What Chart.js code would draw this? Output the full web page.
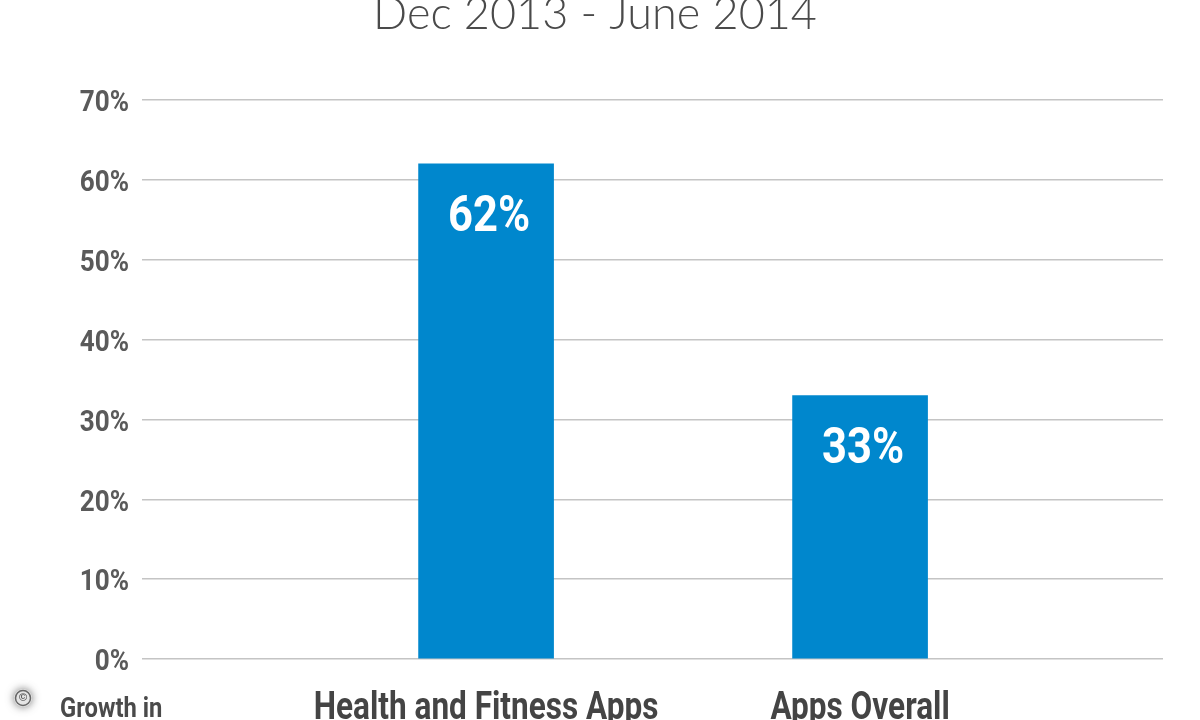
<!DOCTYPE html>
<html><head><meta charset="utf-8">
<style>html,body{margin:0;padding:0;background:#fff}#w{position:relative;width:1200px;height:720px;overflow:hidden}canvas{position:absolute;left:0;top:0}</style>
<script src="https://cdn.jsdelivr.net/npm/chart.js@4"></script></head>
<body><div id="w"><canvas id="c" width="1200" height="720"></canvas></div>
<script>
const categories=["Health and Fitness Apps","Apps Overall"];
const growthValues=[62,33];
const valueLabels=["62%","33%"];
const yTicks=[0,10,20,30,40,50,60,70];
const titleText="Dec 2013 - June 2014";
const axisNote="Growth in";
const face='Roboto,"Liberation Sans",sans-serif';
const canvas=document.getElementById('c');
const rawCtx=canvas.getContext('2d');
// The reference uses a condensed face; squeeze the text horizontally when drawn.
const origFill=rawCtx.fillText.bind(rawCtx);
const squeeze={'29px':0.9,'38px':0.83,'50px':0.87,'27px':0.88};
rawCtx.fillText=function(t,x,y,m){
  const hit=Object.keys(squeeze).find(k=>rawCtx.font.includes(k));
  if(!hit)return origFill(t,x,y,m);
  rawCtx.save();rawCtx.translate(x,y);rawCtx.scale(squeeze[hit],1);origFill(t,0,0);rawCtx.restore();
};
const overlay={id:'overlay',afterDatasetsDraw(chart){
 const {ctx}=chart;const meta=chart.getDatasetMeta(0);
 ctx.save();ctx.textAlign='center';ctx.textBaseline='middle';ctx.fillStyle='#fff';
 ctx.font='bold 50px '+face;
 meta.data.forEach((b,i)=>ctx.fillText(valueLabels[i],b.x+3,b.y+55));
 ctx.restore();
 ctx.save();ctx.font='300 45px Lato,sans-serif';ctx.fillStyle='#4a4a4a';ctx.textAlign='center';ctx.textBaseline='alphabetic';
 ctx.fillText(titleText,595,29);
 ctx.font='bold 27px '+face;ctx.fillStyle='#4a4a4a';ctx.textAlign='left';
 ctx.fillText(axisNote,60,717);
 ctx.save();ctx.shadowColor='rgba(80,80,80,.8)';ctx.shadowBlur=8;ctx.fillStyle='#e4e4e4';
 ctx.beginPath();ctx.arc(23,698,9,0,Math.PI*2);ctx.fill();ctx.restore();
 ctx.strokeStyle='#666';ctx.lineWidth=1.5;
 ctx.beginPath();ctx.arc(23,698,7.5,0,Math.PI*2);ctx.stroke();
 ctx.font='bold 11px "Liberation Sans"';ctx.fillStyle='#555';ctx.textAlign='center';ctx.textBaseline='middle';ctx.fillText('©',23,698);
 ctx.restore();
}};
new Chart(canvas,{type:'bar',
 data:{datasets:[{data:growthValues.map((v,i)=>({x:i,y:v})),backgroundColor:'#0087cd',barThickness:135}]},
 plugins:[overlay],
 options:{responsive:false,animation:false,
  layout:{padding:{left:0,right:37,top:100,bottom:0}},
  plugins:{legend:{display:false},title:{display:false},tooltip:{enabled:false}},
  scales:{
   x:{type:'linear',min:-0.92,max:1.81,offset:false,grid:{display:false},border:{display:false},
      afterBuildTicks(s){s.ticks=categories.map((c,i)=>({value:i}))},
      afterFit(s){s.height=61},
      ticks:{padding:20,color:'#444',font:{family:face,weight:'bold',size:38},maxRotation:0,autoSkip:false,callback:v=>categories[v]}},
   y:{min:0,max:70,afterFit(s){s.width=142},
      afterBuildTicks(s){s.ticks=yTicks.map(v=>({value:v}))},
      grid:{color:'#c4c4c4',lineWidth:1.5,drawTicks:false},border:{display:false},
      ticks:{padding:13,labelOffset:4,color:'#5a5a5a',font:{family:face,weight:'bold',size:29},callback:v=>v+'%'}}
  }}});
</script></body></html>
